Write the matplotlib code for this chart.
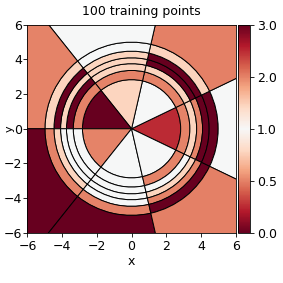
import numpy as np
import matplotlib
matplotlib.use("Agg")
import matplotlib.pyplot as plt
from matplotlib.patches import Wedge
from matplotlib.colors import LinearSegmentedColormap, TwoSlopeNorm
from matplotlib.cm import ScalarMappable

# angular sector boundaries (degrees) and radial bin edges
sector_edges = [-25.71, 25.71, 77.14, 128.57, 180.0, 231.43, 282.86, 334.29]
radius_edges = [0.0, 2.83, 3.36, 3.75, 4.09, 4.47, 4.99, 20.0]

# cell values per sector, inner bin -> outer bin
sector_values = [
    [0.25, 0.5, 0.78, 0.5, 3.0, 3.0, 1.0],    # right
    [1.0, 0.5, 0.78, 3.0, 3.0, 0.78, 2.0],    # upper right
    [0.78, 0.5, 0.78, 0.78, 0.78, 1.0, 1.0],  # top
    [0.0, 0.5, 0.0, 0.78, 0.0, 0.78, 0.5],    # upper left
    [0.5, 1.0, 1.0, 1.0, 0.78, 0.5, 0.0],     # lower left
    [1.0, 1.0, 1.0, 1.0, 1.0, 0.5, 0.0],      # bottom
    [1.0, 0.5, 1.0, 0.78, 0.5, 3.0, 2.0],     # lower right
]

vmin, vcenter, vmax = 0.0, 1.0, 3.0
cbar_ticks = [0.0, 0.5, 1.0, 2.0, 3.0]
title = "100 training points"
ticks = [-6, -4, -2, 0, 2, 4, 6]

base = plt.get_cmap("RdBu")
half = [base(x) for x in np.linspace(0, 0.5, 128)]
cmap = LinearSegmentedColormap.from_list("redsym", half + half[::-1])
norm = TwoSlopeNorm(vmin=vmin, vcenter=vcenter, vmax=vmax)

fig = plt.figure(figsize=(2.83, 2.83), dpi=100)
ax = fig.add_axes([0.0954, 0.177, 0.739, 0.736])
cax = fig.add_axes([0.841, 0.177, 0.042, 0.736])

for i in range(len(sector_values)):
    t1 = sector_edges[i]
    t2 = sector_edges[i + 1]
    for j in range(len(radius_edges) - 1):
        r0, r1 = radius_edges[j], radius_edges[j + 1]
        w = Wedge((0, 0), r1, t1, t2, width=r1 - r0,
                  facecolor=cmap(norm(sector_values[i][j])),
                  edgecolor="black", linewidth=0.7)
        ax.add_patch(w)

ax.set_xlim(-6, 6)
ax.set_ylim(-6, 6)
ax.set_aspect("equal")
ax.set_xticks(ticks)
ax.set_yticks(ticks)
ax.tick_params(labelsize=9, length=3, width=0.6, pad=2)
ax.tick_params(axis="y", pad=1)
ax.set_xlabel("x", fontsize=9)
ax.set_ylabel("y", fontsize=8)
ax.xaxis.set_label_coords(0.5, -0.105)
ax.yaxis.set_label_coords(-0.062, 0.5)
for s in ax.spines.values():
    s.set_linewidth(0.6)
fig.text(0.5, 0.961, title, fontsize=9, ha="center", va="center")

sm = ScalarMappable(norm=norm, cmap=cmap)
cb = fig.colorbar(sm, cax=cax, ticks=cbar_ticks)
cb.ax.tick_params(labelsize=9, length=3, width=0.6, pad=2)
cb.ax.set_yticklabels([f"{t:.1f}" for t in cbar_ticks])
cb.outline.set_linewidth(0.6)

fig.savefig("out.png", dpi=100)
